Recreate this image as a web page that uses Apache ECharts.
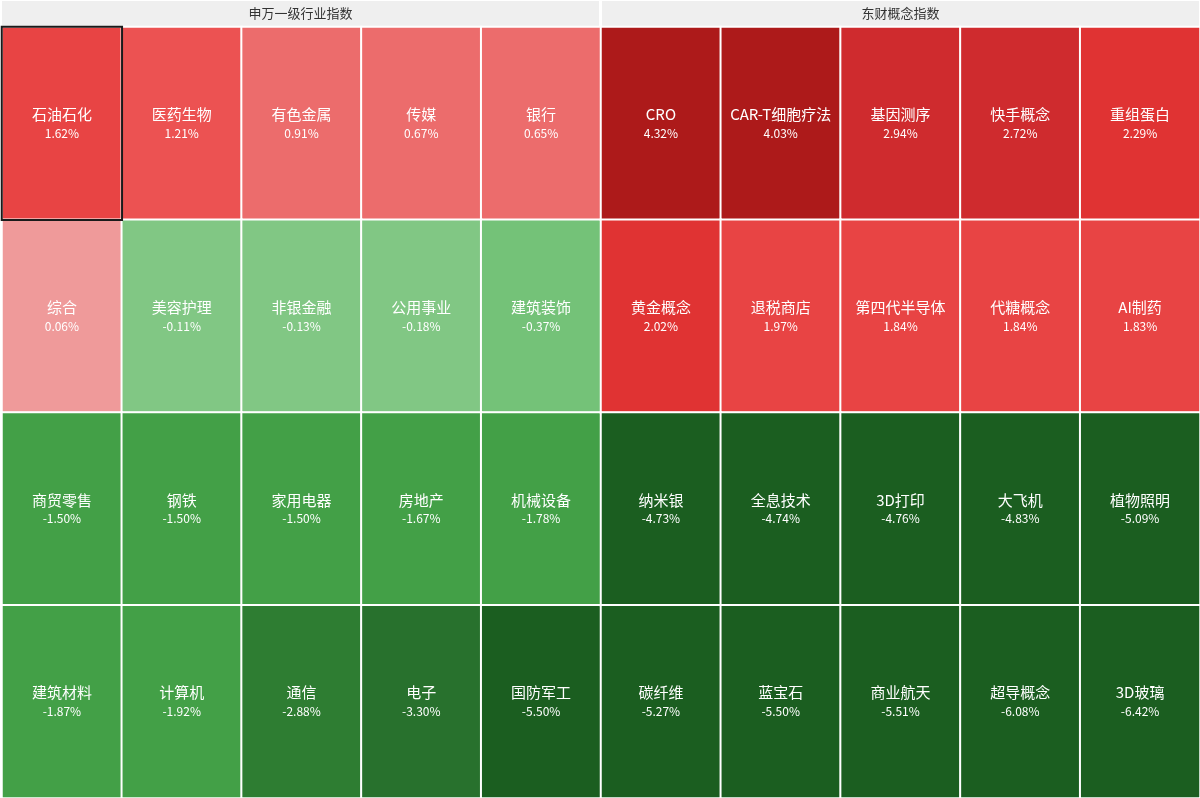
<!DOCTYPE html>
<html>
<head>
<meta charset="utf-8">
<script src="https://cdn.jsdelivr.net/npm/echarts@6/dist/echarts.min.js"></script>
<style>
  html, body { margin: 0; padding: 0; background: #fff; }
  #main { width: 1200px; height: 798px; }
</style>
</head>
<body>
<div id="main"></div>
<script>
// 板块名称与涨跌幅(%)，按5列4行排列
var panelTitles = ['申万一级行业指数', '东财概念指数'];

var swNames = ['石油石化', '医药生物', '有色金属', '传媒', '银行',
    '综合', '美容护理', '非银金融', '公用事业', '建筑装饰',
    '商贸零售', '钢铁', '家用电器', '房地产', '机械设备',
    '建筑材料', '计算机', '通信', '电子', '国防军工'];
var swValues = [1.62, 1.21, 0.91, 0.67, 0.65,
    0.06, -0.11, -0.13, -0.18, -0.37,
    -1.50, -1.50, -1.50, -1.67, -1.78,
    -1.87, -1.92, -2.88, -3.30, -5.50];

var dcNames = ['CRO', 'CAR-T细胞疗法', '基因测序', '快手概念', '重组蛋白',
    '黄金概念', '退税商店', '第四代半导体', '代糖概念', 'AI制药',
    '纳米银', '全息技术', '3D打印', '大飞机', '植物照明',
    '碳纤维', '蓝宝石', '商业航天', '超导概念', '3D玻璃'];
var dcValues = [4.32, 4.03, 2.94, 2.72, 2.29,
    2.02, 1.97, 1.84, 1.84, 1.83,
    -4.73, -4.74, -4.76, -4.83, -5.09,
    -5.27, -5.50, -5.51, -6.08, -6.42];

var cols = ['0', '1', '2', '3', '4'];
var rows = ['0', '1', '2', '3'];

// 当前选中的板块（黑框）
var selectedIndex = 0;

(function() {
    var font = '"Noto Sans CJK SC", "Microsoft YaHei", sans-serif';

    function toCells(names, values) {
        return names.map(function(n, i) {
            return { name: n, value: [i % 5, Math.floor(i / 5), values[i]] };
        });
    }

    function cellSeries(idx, names, values) {
        return {
            type: 'heatmap',
            xAxisIndex: idx,
            yAxisIndex: idx,
            data: toCells(names, values),
            itemStyle: { borderColor: '#fff', borderWidth: 2 },
            label: {
                show: true,
                fontFamily: font,
                formatter: function(p) {
                    return '{n|' + p.name + '}\n{v|' + p.value[2].toFixed(2) + '%}';
                },
                rich: {
                    n: { color: '#fff', fontSize: 15, lineHeight: 20, fontFamily: font },
                    v: { color: '#fff', fontSize: 12, lineHeight: 18, fontFamily: font }
                }
            },
            emphasis: { disabled: true }
        };
    }

    function header(text, left) {
        return {
            type: 'rect',
            left: left,
            top: 1,
            shape: { width: 597, height: 25 },
            style: { fill: '#efefef' },
            textContent: {
                style: {
                    text: text,
                    fill: '#333',
                    fontSize: 13,
                    fontFamily: font
                }
            },
            textConfig: { position: 'inside' }
        };
    }

    option = {
        backgroundColor: '#fff',
        animation: false,
        graphic: [header(panelTitles[0], 2), header(panelTitles[1], 602)],
        grid: [
            { left: 2, top: 27, width: 599, bottom: 0 },
            { left: 601, top: 27, width: 599, bottom: 0 }
        ],
        xAxis: [
            { type: 'category', gridIndex: 0, data: cols, show: false },
            { type: 'category', gridIndex: 1, data: cols, show: false }
        ],
        yAxis: [
            { type: 'category', gridIndex: 0, data: rows, inverse: true, show: false },
            { type: 'category', gridIndex: 1, data: rows, inverse: true, show: false }
        ],
        visualMap: {
            type: 'piecewise',
            show: false,
            dimension: 2,
            seriesIndex: [0, 1],
            pieces: [
                { gte: 4, color: '#ad1a1a' },
                { gte: 2.5, lt: 4, color: '#cf2b2e' },
                { gte: 2, lt: 2.5, color: '#e03333' },
                { gte: 1.5, lt: 2, color: '#e84444' },
                { gte: 1, lt: 1.5, color: '#ec5252' },
                { gte: 0.5, lt: 1, color: '#ec6c6c' },
                { gte: 0, lt: 0.5, color: '#ef9a9a' },
                { gte: -0.3, lt: 0, color: '#81c784' },
                { gte: -1, lt: -0.3, color: '#74c278' },
                { gte: -2.5, lt: -1, color: '#43a047' },
                { gte: -3, lt: -2.5, color: '#2e7d32' },
                { gte: -4, lt: -3, color: '#28712d' },
                { lt: -4, color: '#1b5e20' }
            ]
        },
        series: [
            cellSeries(0, swNames, swValues),
            cellSeries(1, dcNames, dcValues),
            {
                // 选中板块的黑色边框
                type: 'heatmap',
                xAxisIndex: 0,
                yAxisIndex: 0,
                z: 5,
                silent: true,
                data: [toCells(swNames, swValues)[selectedIndex]],
                itemStyle: { color: 'rgba(0,0,0,0)', borderColor: '#1a1a1a', borderWidth: 2 },
                label: { show: false }
            }
        ]
    };

    var chart = echarts.init(document.getElementById('main'));
    chart.setOption(option);
})();
</script>
</body>
</html>
